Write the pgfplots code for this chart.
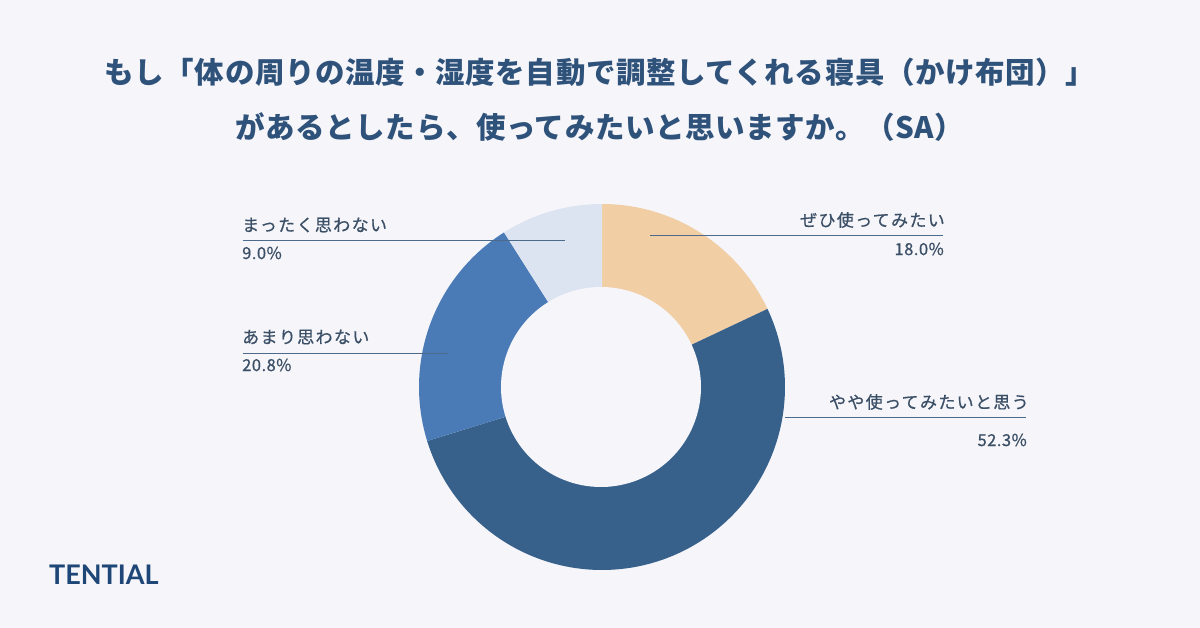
\documentclass[border=0pt]{standalone}
\usepackage{pgfplots}
\pgfplotsset{compat=1.18}
\usepackage{fontspec}
\setmainfont{Noto Sans CJK JP}
\newfontfamily\lblfont{Noto Sans CJK JP}[FakeBold=0.6, LetterSpace=8]
\newfontfamily\numfont{Noto Sans CJK JP}[FakeBold=0.6, LetterSpace=3]
\newfontfamily\titlefont{Noto Sans CJK JP}[LetterSpace=2]
\newfontfamily\logofont{Lato}
\definecolor{bg}{HTML}{F5F5FA}
\definecolor{cA}{HTML}{F1CEA4}
\definecolor{cB}{HTML}{37618B}
\definecolor{cC}{HTML}{4A7BB7}
\definecolor{cD}{HTML}{DCE4F1}
\definecolor{titlec}{HTML}{2F527A}
\definecolor{lblc}{HTML}{3B4F66}
\definecolor{linec}{HTML}{4C6A8C}
\definecolor{logoc}{HTML}{1E4676}
% survey shares (%)
\def\vA{18.0}% ぜひ使ってみたい
\def\vB{52.3}% やや使ってみたいと思う
\def\vC{20.8}% あまり思わない
\def\vD{9.0}%  まったく思わない
\pgfmathsetmacro\tot{\vA+\vB+\vC+\vD}
\pgfmathsetmacro\aA{90}
\pgfmathsetmacro\aB{\aA-\vA/\tot*360}
\pgfmathsetmacro\aC{\aB-\vB/\tot*360}
\pgfmathsetmacro\aD{\aC-\vC/\tot*360}
\pgfmathsetmacro\aE{\aD-\vD/\tot*360}
\def\cx{602}\def\cy{387}\def\R{183}\def\r{100}
\begin{document}
\begin{tikzpicture}
\begin{axis}[
  width=1200pt, height=628pt, scale only axis,
  xmin=0, xmax=1200, ymin=0, ymax=628, y dir=reverse,
  hide axis, clip=false,
]
\addplot[fill=bg, draw=none] coordinates {(0,0) (1200,0) (1200,628) (0,628)} -- cycle;
% donut slices
\addplot[fill=cA, draw=none, domain=\aB:\aA, samples=80] ({\cx+\R*cos(x)},{\cy-\R*sin(x)}) -- (axis cs:\cx,\cy) -- cycle;
\addplot[fill=cB, draw=none, domain=\aC:\aB, samples=160] ({\cx+\R*cos(x)},{\cy-\R*sin(x)}) -- (axis cs:\cx,\cy) -- cycle;
\addplot[fill=cC, draw=none, domain=\aD:\aC, samples=80] ({\cx+\R*cos(x)},{\cy-\R*sin(x)}) -- (axis cs:\cx,\cy) -- cycle;
\addplot[fill=cD, draw=none, domain=\aE:\aD, samples=60] ({\cx+\R*cos(x)},{\cy-\R*sin(x)}) -- (axis cs:\cx,\cy) -- cycle;
\addplot[fill=bg, draw=none, domain=0:360, samples=160] ({\cx-1+\r*cos(x)},{\cy-\r*sin(x)}) -- cycle;
% leader lines
\addplot[linec, line width=0.9pt] coordinates {(650,235) (943,235)};
\addplot[linec, line width=0.9pt] coordinates {(785,417) (1026,417)};
\addplot[linec, line width=0.9pt] coordinates {(243,240) (565,240)};
\addplot[linec, line width=0.9pt] coordinates {(243,353) (448,353)};
% labels
\node[anchor=east, inner sep=0, text=lblc, font=\lblfont\fontsize{17}{20}\selectfont] at (axis cs:945,220) {ぜひ使ってみたい};
\node[anchor=east, inner sep=0, text=lblc, font=\numfont\fontsize{16.5}{18}\selectfont] at (axis cs:944,249) {18.0\%};
\node[anchor=east, inner sep=0, text=lblc, font=\lblfont\fontsize{17}{20}\selectfont] at (axis cs:1029,402) {やや使ってみたいと思う};
\node[anchor=east, inner sep=0, text=lblc, font=\numfont\fontsize{16.5}{18}\selectfont] at (axis cs:1027,440) {52.3\%};
\node[anchor=west, inner sep=0, text=lblc, font=\lblfont\fontsize{17}{20}\selectfont] at (axis cs:242,225) {まったく思わない};
\node[anchor=west, inner sep=0, text=lblc, font=\numfont\fontsize{16.5}{18}\selectfont] at (axis cs:242,253) {9.0\%};
\node[anchor=west, inner sep=0, text=lblc, font=\lblfont\fontsize{17}{20}\selectfont] at (axis cs:242,337) {あまり思わない};
\node[anchor=west, inner sep=0, text=lblc, font=\numfont\fontsize{16.5}{18}\selectfont] at (axis cs:242,365) {20.8\%};
% title
\node[inner sep=0, text=titlec, font=\titlefont\bfseries\fontsize{29.5}{34}\selectfont] at (axis cs:600,72) {もし「体の周りの温度・湿度を自動で調整してくれる寝具（かけ布団）」};
\node[inner sep=0, text=titlec, font=\titlefont\bfseries\fontsize{29.5}{34}\selectfont] at (axis cs:600,127) {があるとしたら、使ってみたいと思いますか。（SA）};
% logo
\node[anchor=west, inner sep=0, text=logoc, font=\logofont\bfseries\fontsize{27}{32}\selectfont] at (axis cs:49,575) {TENTIAL};
\end{axis}
\end{tikzpicture}
\end{document}
